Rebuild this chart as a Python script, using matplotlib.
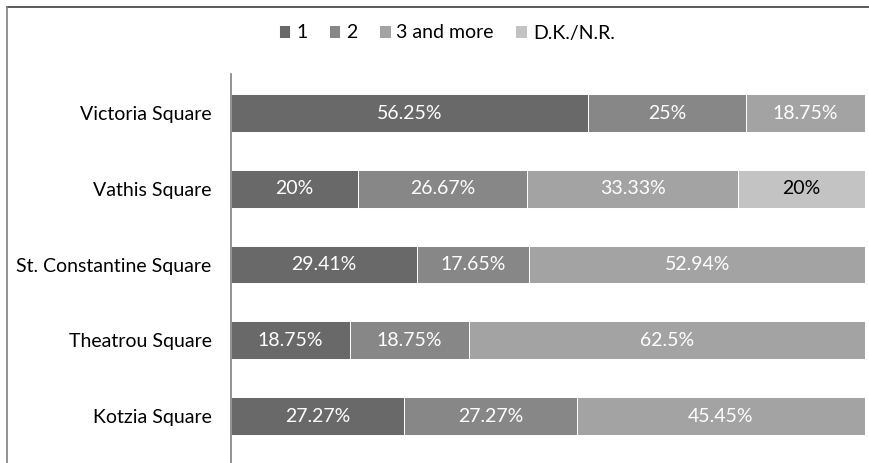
import matplotlib.pyplot as plt
from matplotlib.lines import Line2D
import numpy as np

plt.rcParams['font.family'] = ['Lato', 'DejaVu Sans']

squares = ['Victoria Square', 'Vathis Square', 'St. Constantine Square',
           'Theatrou Square', 'Kotzia Square']
series = ['1', '2', '3 and more', 'D.K./N.R.']
one = [56.25, 20, 29.41, 18.75, 27.27]
two = [25, 26.67, 17.65, 18.75, 27.27]
three_more = [18.75, 33.33, 52.94, 62.5, 45.45]
dknr = [0, 20, 0, 0, 0]

colors = ['#696969', '#878787', '#a3a3a3', '#c3c3c3']
textcolors = ['white', 'white', 'white', 'black']

fig = plt.figure(figsize=(8.69, 4.63), dpi=100)
ax = fig.add_axes([231/869, 0, (865-231)/869, (463-74)/463])

ypos = np.arange(len(squares))
left = np.zeros(len(squares))
for vals, name, col, tcol in zip([one, two, three_more, dknr], series, colors, textcolors):
    vals = np.array(vals, dtype=float)
    ax.barh(ypos, vals, left=left, height=0.5, color=col, edgecolor='white',
            linewidth=0.7, label=name)
    for y, l, v in zip(ypos, left, vals):
        if v > 0:
            ax.text(l + v/2, y, '{:g}%'.format(v), ha='center', va='center',
                    color=tcol, fontsize=14)
    left += vals

ax.set_xlim(0, 100)
ax.set_ylim(4.62, -0.515)
ax.set_yticks(ypos)
ax.set_yticklabels(squares, fontsize=14)
ax.tick_params(axis='y', length=0, pad=14)
ax.set_xticks([])
for s in ['top', 'right', 'bottom']:
    ax.spines[s].set_visible(False)
ax.spines['left'].set_color('#808080')
ax.spines['left'].set_linewidth(1.2)

fig.legend(loc='center', bbox_to_anchor=(0.514, 1 - 33/463), ncol=4, frameon=False,
           fontsize=14, handlelength=0.6, handleheight=0.6, handletextpad=0.3,
           columnspacing=1.1)

# outer chart border (top and left)
fig.add_artist(Line2D([7/869, 1], [1 - 7/463, 1 - 7/463], color='#404040', lw=1.2))
fig.add_artist(Line2D([7/869, 7/869], [0, 1 - 7/463], color='#808080', lw=1.2))

fig.savefig('out.png', dpi=100)
